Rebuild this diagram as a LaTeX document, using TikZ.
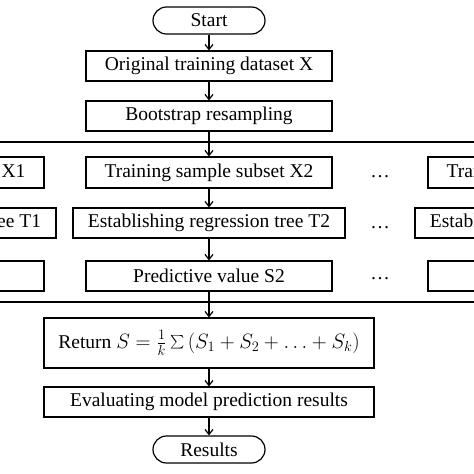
\documentclass[tikz,border=0pt]{standalone}
\usepackage{fontspec}
\usepackage{graphicx}
\setmainfont{Liberation Serif}
\usetikzlibrary{arrows.meta}
\begin{document}
\begin{tikzpicture}[x=1pt,y=-1pt,
  box/.style={draw,line width=1.2pt,inner sep=0pt,minimum height=30pt,font=\fontsize{19.5}{22}\selectfont},
  term/.style={box,rounded corners=13.5pt,minimum width=112pt,minimum height=27pt},
  arr/.style={line width=1.2pt,-{Straight Barb[length=5pt,width=8pt]}},
  ln/.style={line width=1.2pt},
  dots/.style={font=\fontsize{19.5}{22}\selectfont,inner sep=0pt}]
\useasboundingbox (0,0) rectangle (474,474);
\clip (0,0) rectangle (474,474);
\fill[white] (0,0) rectangle (474,474);
\node[term] (start) at (209,20.5) {Start};
\node[box,minimum width=246pt] (orig) at (209,66) {Original training dataset X};
\node[box,minimum width=246pt] (boot) at (209,116) {Bootstrap resampling};
\coordinate (la) at (0,142);
\coordinate (lb) at (474,142);
\coordinate (ma) at (0,302);
\coordinate (mb) at (474,302);
\draw[ln] (la) -- (lb);
\draw[ln] (ma) -- (mb);
% middle column
\node[box,minimum width=246pt,minimum height=31pt] (x2) at (209,172.5) {Training sample subset X2};
\node[box,minimum width=272pt] (t2) at (209,223) {Establishing regression tree T2};
\node[box,minimum width=246pt] (s2) at (209,276) {Predictive value S2};
% left column
\node[box,minimum width=246pt,minimum height=31pt] (x1) at (-79,172.5) {Training sample subset X1};
\node[box,minimum width=272pt] (t1) at (-80,223) {Establishing regression tree T1};
\node[box,minimum width=246pt] (s1) at (-79,276) {Predictive value S1};
% right column
\node[box,minimum width=246pt,minimum height=31pt] (xk) at (551,172.5) {Training sample subset Xk};
\node[box,minimum width=272pt] (tk) at (551,223) {Establishing regression tree Tk};
\node[box,minimum width=246pt] (sk) at (551,276) {Predictive value Sk};
% dots
\node[dots] (d1) at (380,177) {\ldots};
\node[dots] (d2) at (380,228) {\ldots};
\node[dots] (d3) at (380,279) {\ldots};
\node[box,minimum width=330pt,minimum height=50pt] (ret) at (209,343) {Return $S=\frac{1}{k}\mathop{\raisebox{-0.1ex}{\scalebox{1.35}{$\sum$}}}\left(S_1+S_2+\ldots+S_k\right)$};
\node[box,minimum width=330pt] (eval) at (209,402) {Evaluating model prediction results};
\node[term] (res) at (209,449.5) {Results};
% connectors
\draw[arr] (start) -- (orig);
\draw[arr] (orig) -- (boot);
\draw[arr] (boot) -- (x2);
\draw[arr] (x2) -- (t2);
\draw[arr] (t2) -- (s2);
\coordinate (j2) at (209,302);
\draw[ln] (s2) -- (j2);
\draw[arr] (j2) -- (ret);
\coordinate (c1) at (-79,142);
\coordinate (e1) at (-79,302);
\draw[arr] (c1) -- (x1);
\draw[arr] (x1) -- (t1.north -| x1);
\draw[arr] (t1.south -| s1) -- (s1);
\draw[ln] (s1) -- (e1);
\coordinate (ck) at (551,142);
\coordinate (ek) at (551,302);
\draw[arr] (ck) -- (xk);
\draw[arr] (xk) -- (tk);
\draw[arr] (tk) -- (sk);
\draw[ln] (sk) -- (ek);
\draw[arr] (ret) -- (eval);
\draw[arr] (eval) -- (res);
\end{tikzpicture}
\end{document}
